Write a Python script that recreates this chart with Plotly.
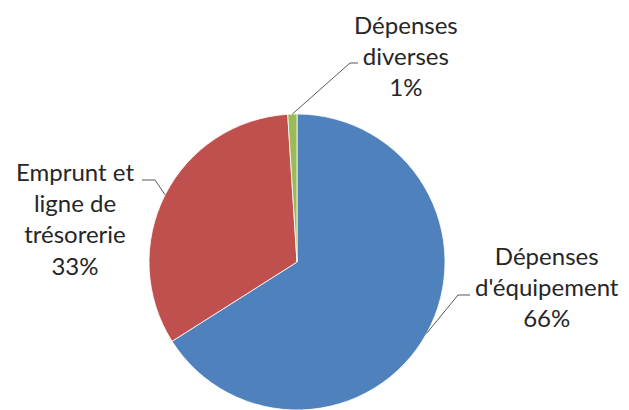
import math
import plotly.graph_objects as go

labels = ["Dépenses d'équipement", "Emprunt et ligne de trésorerie", "Dépenses diverses"]
values = [66, 33, 1]
label_lines = [["Dépenses", "d'équipement"], ["Emprunt et", "ligne de", "trésorerie"], ["Dépenses", "diverses"]]
colors = ["#4F81BD", "#C0504D", "#9BBB59"]

W, H = 629, 410
CX, CY, R = 297, 262, 148

# label layout (pixel positions of label centre, elbow and line end)
label_pos = [(547, 286), (75, 218), (406, 55)]
elbows = [((458, 295), (470, 295)), ((155, 180), (142, 180)), ((350, 63), (358, 63))]

fig = go.Figure(go.Pie(
    labels=labels, values=values, sort=False, direction="clockwise", rotation=0,
    marker=dict(colors=colors, line=dict(color="white", width=0.8)),
    textinfo="none", hoverinfo="skip", showlegend=False,
    domain=dict(x=[(CX - R) / W, (CX + R) / W], y=[1 - (CY + R) / H, 1 - (CY - R) / H]),
))

def px(x):
    return x / W

def py(y):
    return 1 - y / H

total = sum(values)
cum = 0
shapes = []
annotations = []
for i, v in enumerate(values):
    mid = (cum + v / 2) / total
    cum += v
    th = 2 * math.pi * mid
    ex, ey = CX + R * math.sin(th), CY - R * math.cos(th)
    (bx, by), (tx, ty) = elbows[i]
    for (x0, y0, x1, y1) in [(ex, ey, bx, by), (bx, by, tx, ty)]:
        shapes.append(dict(type="line", xref="paper", yref="paper",
                           x0=px(x0), y0=py(y0), x1=px(x1), y1=py(y1),
                           line=dict(color="#595959", width=1)))
    pct = round(100 * v / total)
    text = "<br>".join(label_lines[i] + [f"{pct}%"])
    lx, ly = label_pos[i]
    annotations.append(dict(text=text, x=px(lx), y=py(ly), xref="paper", yref="paper",
                            xanchor="center", yanchor="middle", showarrow=False,
                            align="center", font=dict(family="Lato", size=24, color="#262626")))

fig.update_layout(width=W, height=H, margin=dict(l=0, r=0, t=0, b=0),
                  paper_bgcolor="white", plot_bgcolor="white",
                  shapes=shapes, annotations=annotations)
fig.write_html("out.html")
